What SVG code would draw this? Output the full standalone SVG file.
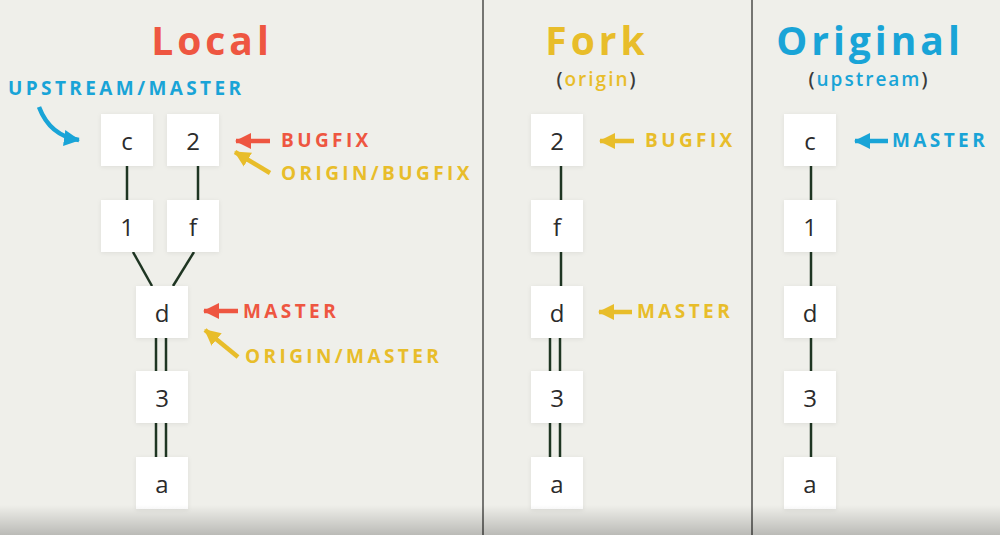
<svg xmlns="http://www.w3.org/2000/svg" width="1000" height="535" viewBox="0 0 1000 535">
<defs>
<style>
.bg{fill:#efefea}
.div{stroke:#4d4d4a;stroke-width:1.5}
.box{fill:#ffffff;filter:url(#sh)}
.nt{font-family:"Open Sans","Liberation Sans",sans-serif;font-size:24px;font-weight:500;fill:#2b2b2b;text-anchor:middle}
.title{font-family:"Open Sans","Liberation Sans",sans-serif;font-size:39px;font-weight:700;letter-spacing:4px}
.sub{font-family:"Open Sans","Liberation Sans",sans-serif;font-size:19px;font-weight:600;letter-spacing:2px}
.lbl{font-family:"Open Sans","Liberation Sans",sans-serif;font-size:19px;font-weight:700;letter-spacing:3.4px}
.edge{stroke:#1e3522;stroke-width:2.5;fill:none}
.red{fill:#ee5641}
.yel{fill:#e8bd2a}
.blu{fill:#19a4d7}
.par{fill:#3a3a3a}
.ar{stroke-width:4.5;fill:none}
.ar-r{stroke:#ee5641}
.ar-y{stroke:#e8bd2a}
.ar-b{stroke:#19a4d7}
</style>
<filter id="sh" x="-20%" y="-20%" width="140%" height="140%">
<feDropShadow dx="0" dy="1" stdDeviation="2" flood-color="#000" flood-opacity="0.08"/>
</filter>
<marker id="hr" markerUnits="userSpaceOnUse" markerWidth="18" markerHeight="18" refX="15" refY="8.5" orient="auto"><path d="M0,0.5 L16,8.5 L0,16.5 Z" fill="#ee5641"/></marker>
<marker id="hy" markerUnits="userSpaceOnUse" markerWidth="18" markerHeight="18" refX="15" refY="8.5" orient="auto"><path d="M0,0.5 L16,8.5 L0,16.5 Z" fill="#e8bd2a"/></marker>
<marker id="hb" markerUnits="userSpaceOnUse" markerWidth="18" markerHeight="18" refX="15" refY="8.5" orient="auto"><path d="M0,0.5 L16,8.5 L0,16.5 Z" fill="#19a4d7"/></marker>
<linearGradient id="bot" x1="0" y1="0" x2="0" y2="1">
<stop offset="0" stop-color="#000" stop-opacity="0"/>
<stop offset="1" stop-color="#000" stop-opacity="0.22"/>
</linearGradient>
</defs>
<rect class="bg" x="0" y="0" width="1000" height="535"/>
<line class="div" x1="483" y1="0" x2="483" y2="535"/>
<line class="div" x1="752" y1="0" x2="752" y2="535"/>

<g id="titles">
<text class="title red" x="212" y="55" text-anchor="middle">Local</text>
<text class="title yel" x="597" y="55" text-anchor="middle">Fork</text>
<text class="title blu" x="870" y="55" text-anchor="middle">Original</text>
<text class="sub" x="597" y="86" text-anchor="middle"><tspan class="par">(</tspan><tspan class="yel">origin</tspan><tspan class="par">)</tspan></text>
<text class="sub" x="869" y="86" text-anchor="middle"><tspan class="par">(</tspan><tspan class="blu">upstream</tspan><tspan class="par">)</tspan></text>
</g>

<g id="connectors">
<line class="edge" x1="127" y1="166" x2="127" y2="200"/>
<line class="edge" x1="198" y1="166" x2="198" y2="200"/>
<line class="edge" x1="133" y1="252" x2="152" y2="286"/>
<line class="edge" x1="194" y1="252" x2="173" y2="286"/>
<line class="edge" x1="156" y1="338" x2="156" y2="371"/>
<line class="edge" x1="166" y1="338" x2="166" y2="371"/>
<line class="edge" x1="156" y1="423" x2="156" y2="457"/>
<line class="edge" x1="166" y1="423" x2="166" y2="457"/>
<line class="edge" x1="561" y1="166" x2="561" y2="200"/>
<line class="edge" x1="561" y1="252" x2="561" y2="286"/>
<line class="edge" x1="550" y1="338" x2="550" y2="371"/>
<line class="edge" x1="560" y1="338" x2="560" y2="371"/>
<line class="edge" x1="550" y1="423" x2="550" y2="457"/>
<line class="edge" x1="560" y1="423" x2="560" y2="457"/>
<line class="edge" x1="811" y1="166" x2="811" y2="200"/>
<line class="edge" x1="811" y1="252" x2="811" y2="286"/>
<line class="edge" x1="811" y1="338" x2="811" y2="371"/>
<line class="edge" x1="811" y1="423" x2="811" y2="457"/>
</g>

<g id="local-c"><rect class="box" x="101" y="114" width="52" height="52"/><text class="nt" x="127" y="150">c</text></g>
<g id="local-2"><rect class="box" x="167" y="114" width="52" height="52"/><text class="nt" x="193" y="150">2</text></g>
<g id="local-1"><rect class="box" x="101" y="200" width="52" height="52"/><text class="nt" x="127" y="236">1</text></g>
<g id="local-f"><rect class="box" x="167" y="200" width="52" height="52"/><text class="nt" x="193" y="236">f</text></g>
<g id="local-d"><rect class="box" x="136" y="286" width="52" height="52"/><text class="nt" x="162" y="322">d</text></g>
<g id="local-3"><rect class="box" x="136" y="371" width="52" height="52"/><text class="nt" x="162" y="407">3</text></g>
<g id="local-a"><rect class="box" x="136" y="457" width="52" height="52"/><text class="nt" x="162" y="493">a</text></g>

<g id="fork-2"><rect class="box" x="531" y="114" width="52" height="52"/><text class="nt" x="557" y="150">2</text></g>
<g id="fork-f"><rect class="box" x="531" y="200" width="52" height="52"/><text class="nt" x="557" y="236">f</text></g>
<g id="fork-d"><rect class="box" x="531" y="286" width="52" height="52"/><text class="nt" x="557" y="322">d</text></g>
<g id="fork-3"><rect class="box" x="531" y="371" width="52" height="52"/><text class="nt" x="557" y="407">3</text></g>
<g id="fork-a"><rect class="box" x="531" y="457" width="52" height="52"/><text class="nt" x="557" y="493">a</text></g>

<g id="orig-c"><rect class="box" x="784" y="114" width="52" height="52"/><text class="nt" x="810" y="150">c</text></g>
<g id="orig-1"><rect class="box" x="784" y="200" width="52" height="52"/><text class="nt" x="810" y="236">1</text></g>
<g id="orig-d"><rect class="box" x="784" y="286" width="52" height="52"/><text class="nt" x="810" y="322">d</text></g>
<g id="orig-3"><rect class="box" x="784" y="371" width="52" height="52"/><text class="nt" x="810" y="407">3</text></g>
<g id="orig-a"><rect class="box" x="784" y="457" width="52" height="52"/><text class="nt" x="810" y="493">a</text></g>

<g id="pointers">
<path class="ar ar-b" d="M39,107 Q50,136 79,140" marker-end="url(#hb)"/>
<text class="lbl blu" x="8" y="95">UPSTREAM/MASTER</text>
<line class="ar ar-r" x1="270" y1="141" x2="236" y2="141" marker-end="url(#hr)"/>
<text class="lbl red" x="281" y="147">BUGFIX</text>
<line class="ar ar-y" x1="270" y1="173" x2="235" y2="152" marker-end="url(#hy)"/>
<text class="lbl yel" x="281" y="180">ORIGIN/BUGFIX</text>
<line class="ar ar-r" x1="238" y1="311" x2="204" y2="311" marker-end="url(#hr)"/>
<text class="lbl red" x="243" y="318">MASTER</text>
<line class="ar ar-y" x1="238" y1="357" x2="205" y2="330" marker-end="url(#hy)"/>
<text class="lbl yel" x="245" y="363">ORIGIN/MASTER</text>
<line class="ar ar-y" x1="634" y1="141" x2="600" y2="141" marker-end="url(#hy)"/>
<text class="lbl yel" x="645" y="147">BUGFIX</text>
<line class="ar ar-y" x1="632" y1="312" x2="599" y2="312" marker-end="url(#hy)"/>
<text class="lbl yel" x="637" y="318">MASTER</text>
<line class="ar ar-b" x1="888" y1="141" x2="855" y2="141" marker-end="url(#hb)"/>
<text class="lbl blu" x="892" y="147">MASTER</text>
</g>
<rect x="0" y="505" width="1000" height="30" fill="url(#bot)"/>
</svg>
